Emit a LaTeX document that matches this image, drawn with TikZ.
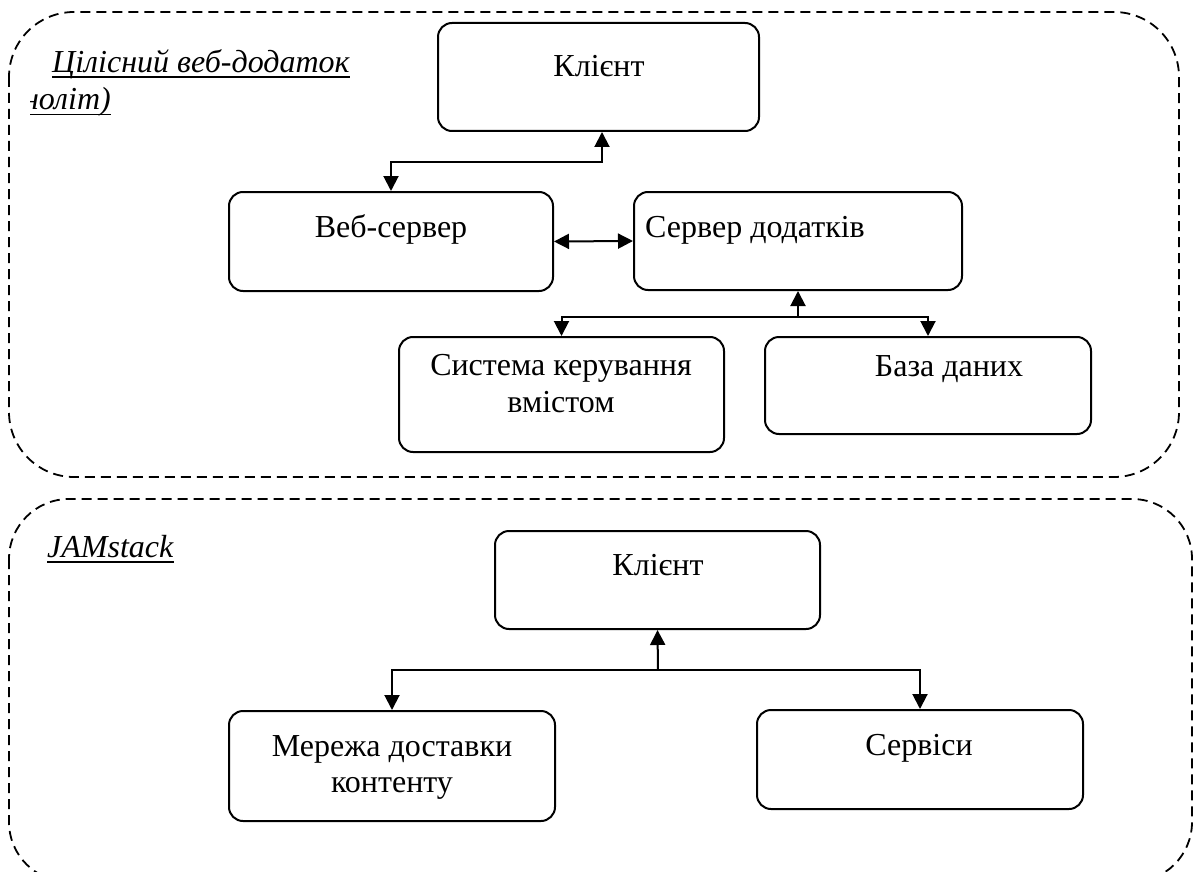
\documentclass[tikz,border=0pt]{standalone}
\usepackage{fontspec}
\setmainfont{Liberation Serif}
\usetikzlibrary{arrows.meta}
\begin{document}
\begin{tikzpicture}[x=1pt,y=-1pt,
  box/.style={draw, line width=2pt, rounded corners=14pt, inner sep=0pt},
  lbl/.style={anchor=base, inner sep=0pt, font=\fontsize{32}{37}\selectfont},
  ttl/.style={anchor=base west, inner sep=0pt, font=\fontsize{32}{37}\selectfont\itshape},
  uline/.style={line width=1.6pt},
  conn/.style={line width=2pt, -{Triangle[length=15pt,width=15pt]}},
  dconn/.style={line width=2pt, {Triangle[length=15pt,width=15pt]}-{Triangle[length=15pt,width=15pt]}},
  frame/.style={draw, line width=1.8pt, dash pattern=on 10pt off 6pt}]
\clip (0,0) rectangle (1194,872);
\fill[white] (0,0) rectangle (1194,872);

% containers
\draw[frame, rounded corners=65pt] (9,12) rectangle (1179,477);
\draw[frame, rounded corners=60pt] (9,499) rectangle (1192,882);

% titles
\node[ttl] (t1) at (52,73) {Цілісний веб-додаток};
\draw[uline] ([yshift=-4pt]t1.base west) -- ([yshift=-4pt]t1.base east);
\begin{scope}
  \clip (30,80) rectangle (300,130);
  \node[ttl, anchor=base east] (t2) at (111,110) {(моноліт)};
  \draw[uline] ([yshift=-4.5pt]t2.base west) -- ([yshift=-4.5pt]t2.base east);
\end{scope}
\node[ttl] (t3) at (47,557) {JAMstack};
\draw[uline] ([yshift=-5pt]t3.base west) -- ([yshift=-5pt]t3.base east);

% top section boxes
\node[box, minimum width=321pt, minimum height=108pt] (k1) at (598.5,77) {};
\node[lbl] (k1t) at (599,77) {Клієнт};
\node[box, minimum width=324pt, minimum height=99pt] (web) at (391,241.5) {};
\node[lbl] (webt) at (391,237) {Веб-сервер};
\node[box, minimum width=328pt, minimum height=98pt] (app) at (798,241) {};
\node[lbl] (appt) at (755,237) {Сервер додатків};
\node[box, minimum width=325pt, minimum height=115pt] (cms) at (561.5,394.5) {};
\node[lbl] (cmst1) at (561,375) {Система керування};
\node[lbl] (cmst2) at (561,412) {вмістом};
\node[box, minimum width=326pt, minimum height=97pt] (db) at (928,385.5) {};
\node[lbl] (dbt) at (949,376) {База даних};

% bottom section boxes
\node[box, minimum width=325pt, minimum height=98pt] (k2) at (657.5,580) {};
\node[lbl] (k2t) at (658,575) {Клієнт};
\node[box, minimum width=326pt, minimum height=110pt] (cdn) at (392,766) {};
\node[lbl] (cdnt1) at (392,756) {Мережа доставки};
\node[lbl] (cdnt2) at (392,792) {контенту};
\node[box, minimum width=326pt, minimum height=99pt] (svc) at (920,759.5) {};
\node[lbl] (svct) at (919,755) {Сервіси};

% connectors top
\coordinate (j0) at (602,162);
\draw[dconn] ([xshift=3.5pt]k1.south) -- (j0) -| (web.north);
\draw[dconn] (web.east) -- (app.west);
\coordinate (j1) at (798,317);
\draw[conn] (j1) -- (app.south);
\draw[conn] (j1) -| (cms.north);
\draw[conn] (j1) -| (db.north);

% connectors bottom
\coordinate (j2) at (658,670);
\draw[conn] (j2) -- (k2.south);
\draw[conn] (j2) -| (cdn.north);
\draw[conn] (j2) -| (svc.north);
\end{tikzpicture}
\end{document}
